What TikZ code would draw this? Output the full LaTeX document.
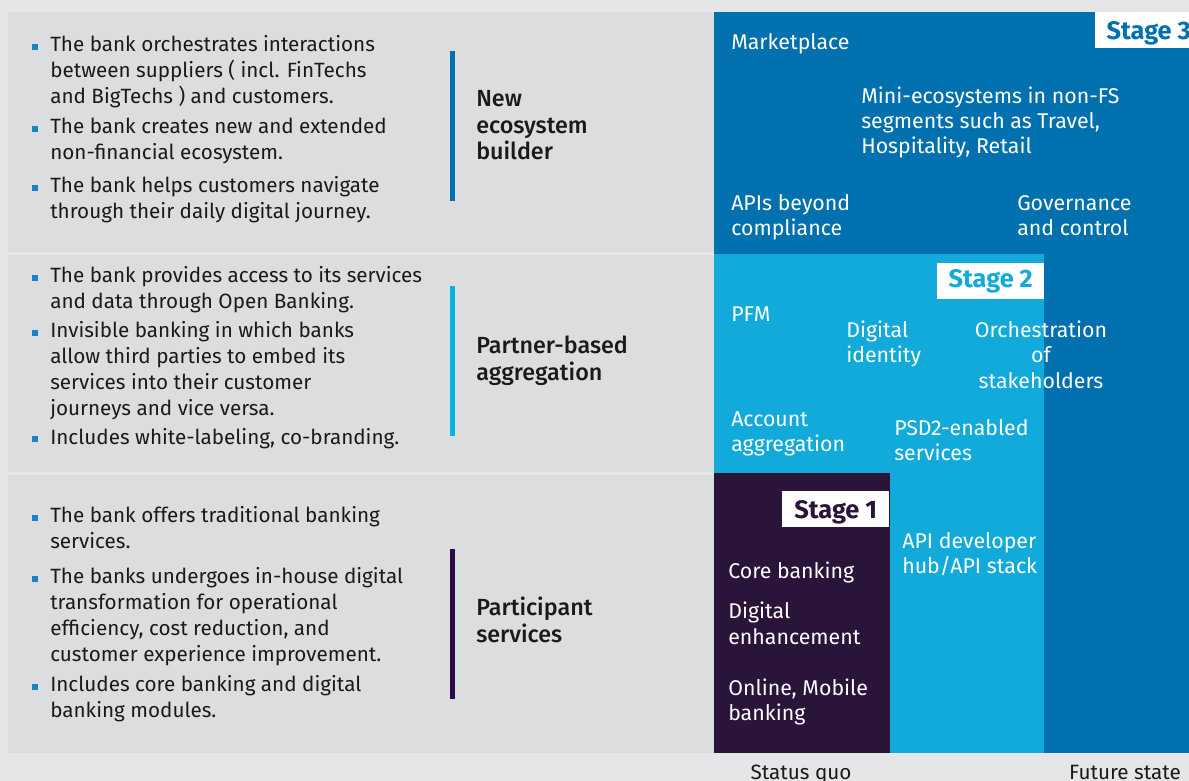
\documentclass[tikz,border=0pt]{standalone}
\usepackage{fontspec}
\setmainfont{Fira Sans}
\newfontfamily\headfont{Fira Sans}[UprightFont={* Medium}]
\usetikzlibrary{positioning}
\definecolor{pgbg}{RGB}{229,230,232}
\definecolor{pgpanel}{RGB}{220,221,223}
\definecolor{stthree}{RGB}{0,112,175}
\definecolor{sttwo}{RGB}{18,170,219}
\definecolor{stone}{RGB}{43,20,58}
\definecolor{barone}{RGB}{46,10,77}
\definecolor{bartwo}{RGB}{0,181,230}
\definecolor{bulletblue}{RGB}{26,130,196}
\definecolor{txtdark}{RGB}{26,26,26}
% multi-line nodes sit on the baseline of their last line
\tikzstyle{itemtext} = [anchor=base west, align=left, inner sep=0pt, font=\fontsize{15.5}{19.3}\selectfont, text=txtdark]
\tikzstyle{sqbullet} = [fill=bulletblue, inner sep=0pt, minimum size=4.5pt]
\tikzstyle{rowhead} = [anchor=base west, align=left, inner sep=0pt, font=\fontsize{17.5}{19.9}\selectfont\headfont, text=txtdark]
\tikzstyle{boxtext} = [anchor=base west, align=left, inner sep=0pt, font=\fontsize{16}{19.1}\selectfont, text=white]
\tikzstyle{stagelabel} = [fill=white, anchor=north west, inner sep=0pt, minimum width=80.25pt, minimum height=27pt, font=\fontsize{19}{22}\selectfont\bfseries]
\tikzstyle{stagelow} = [text height=19pt, text depth=4.5pt]
\tikzstyle{axislabel} = [anchor=base, inner sep=0pt, font=\fontsize{15.5}{19}\selectfont, text=txtdark]

\begin{document}
\begin{tikzpicture}[x=0.75pt, y=-0.75pt]
\useasboundingbox (0,0) rectangle (1189,781);
% Background and row panels
\fill[pgbg] (0,0) rectangle (1189,781);
\fill[pgpanel] (8,12) rectangle (714,252);
\fill[pgpanel] (8,255) rectangle (714,472);
\fill[pgpanel] (8,475) rectangle (714,753);

% Stage areas
\fill[stthree] (714,12) rectangle (1189,753);
\fill[sttwo] (714,254) rectangle (1044,753);
\fill[stone] (714,473) rectangle (890,753);

% Row bars
\fill[stthree] (450,51) rectangle (455,201);
\fill[bartwo] (450,286) rectangle (455,436);
\fill[barone] (450,549) rectangle (455,699);

% Bullets
\foreach \y [count=\i] in {47,129,188,278,333,439,518,579,687}
  \node[sqbullet] (sq\i) at (35,\y) {};

% Row 1 text
\node[itemtext] (t1a) at (50,103.4) {The bank orchestrates interactions\\between suppliers ( incl. FinTechs\\and BigTechs ) and customers.};
\node[itemtext] (t1b) at (50,159.7) {The bank creates new and extended\\non-financial ecosystem.};
\node[itemtext] (t1c) at (50,218.7) {The bank helps customers navigate\\through their daily digital journey.};
\node[rowhead] (h1) at (476,160) {New\\ecosystem\\builder};

% Row 2 text
\node[itemtext] (t2a) at (50,308.7) {The bank provides access to its services\\and data through Open Banking.};
\node[itemtext] (t2b) at (50,415.1) {Invisible banking in which banks\\allow third parties to embed its\\services into their customer\\journeys and vice versa.};
\node[itemtext] (t2c) at (50,444) {Includes white-labeling, co-branding.};
\node[rowhead] (h2) at (476,380.5) {Partner-based\\aggregation};

% Row 3 text
\node[itemtext] (t3a) at (50,548.7) {The bank offers traditional banking\\services.};
\node[itemtext] (t3b) at (50,661.1) {The banks undergoes in-house digital\\transformation for operational\\efficiency, cost reduction, and\\customer experience improvement.};
\node[itemtext] (t3c) at (50,717.7) {Includes core banking and digital\\banking modules.};
\node[rowhead] (h3) at (476,642.5) {Participant\\services};

% Stage 3 contents
\node[boxtext] (market) at (731,50) {Marketplace};
\node[boxtext] (mini) at (861,154) {Mini-ecosystems in non-FS\\segments such as Travel,\\Hospitality, Retail};
\node[boxtext] (apis) at (731,235.5) {APIs beyond\\compliance};
\node[boxtext] (gov) at (1017,235.5) {Governance\\and control};

% Stage 2 contents
\node[boxtext] (pfm) at (731,321) {PFM};
\node[boxtext] (digid) at (846,362.5) {Digital\\identity};
\node[boxtext, anchor=base, align=center] (orch) at (1041,388) {Orchestration\\of\\stakeholders};
\node[boxtext] (acc) at (731,451.5) {Account\\aggregation};
\node[boxtext] (psd) at (894,460.5) {PSD2-enabled\\services};
\node[boxtext] (apidev) at (902,573.5) {API developer\\hub/API stack};

% Stage 1 contents
\node[boxtext] (core) at (728,578) {Core banking};
\node[boxtext] (digenh) at (728,644) {Digital\\enhancement};
\node[boxtext] (online) at (728,720.5) {Online, Mobile\\banking};

% Stage labels
\node[stagelabel, stagelow, text=stthree] (st3) at (1095,12) {Stage 3};
\node[stagelabel, text=sttwo] (st2) at (937,263) {Stage 2};
\node[stagelabel, stagelow, text=stone] (st1) at (782,491) {Stage 1};

% Bottom labels
\node[axislabel] (squo) at (801,779) {Status quo};
\node[axislabel] (fstate) at (1125,779) {Future state};
\end{tikzpicture}
\end{document}
